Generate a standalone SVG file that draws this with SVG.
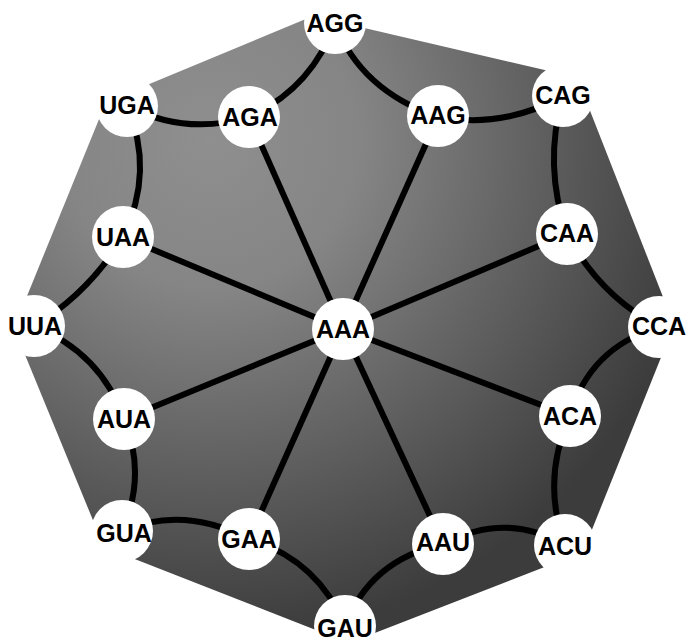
<svg xmlns="http://www.w3.org/2000/svg" width="689" height="642" viewBox="0 0 689 642">
<defs>
<radialGradient id="bg" gradientUnits="userSpaceOnUse" cx="210" cy="140" r="500">
<stop offset="0" stop-color="#8f8f8f"/>
<stop offset="0.3" stop-color="#858585"/>
<stop offset="1" stop-color="#3c3c3c"/>
</radialGradient>
</defs>
<style>
.e{fill:none;stroke:#000;stroke-width:6}
.n circle{fill:#fff}
.n text{font-family:"Liberation Sans",Arial,sans-serif;font-weight:bold;font-size:25px;text-anchor:middle;fill:#000}
</style>
<rect width="689" height="642" fill="#fff"/>
<polygon points="313,16 577,77.5 674,325 583,552 349,643 104,547 14,328 106,102" fill="url(#bg)"/>
<g id="connectors">
<path class="e" d="M343,329 L249,117"/>
<path class="e" d="M343,329 L438,117"/>
<path class="e" d="M343,329 L123,237"/>
<path class="e" d="M343,329 L567,234"/>
<path class="e" d="M343,329 L124,419"/>
<path class="e" d="M343,329 L570,416"/>
<path class="e" d="M343,329 L249,539"/>
<path class="e" d="M343,329 L443,544"/>
<path class="e" d="M335,23 Q312,88 249,117"/>
<path class="e" d="M335,23 Q360,90 438,117"/>
<path class="e" d="M127,106 Q186,136 249,117"/>
<path class="e" d="M438,117 Q503,129 563,96"/>
<path class="e" d="M127,106 Q155,171 123,237"/>
<path class="e" d="M563,96 Q543,165 567,234"/>
<path class="e" d="M123,237 Q88,294 34,326"/>
<path class="e" d="M567,234 Q599,295 659,327"/>
<path class="e" d="M34,326 Q101,353 124,419"/>
<path class="e" d="M659,327 Q589,348 570,416"/>
<path class="e" d="M124,419 Q147,475 122,531"/>
<path class="e" d="M570,416 Q541,480 565,545"/>
<path class="e" d="M122,531 Q183,505 249,539"/>
<path class="e" d="M443,544 Q506,511 565,545"/>
<path class="e" d="M249,539 Q318,560 345,626"/>
<path class="e" d="M443,544 Q370,560 345,626"/>
</g>
<g id="AGG" class="n"><circle cx="335" cy="23" r="31"/><text x="335" y="32">AGG</text></g>
<g id="UGA" class="n"><circle cx="127" cy="106" r="31"/><text x="127" y="114">UGA</text></g>
<g id="AGA" class="n"><circle cx="249" cy="117" r="31"/><text x="250" y="126">AGA</text></g>
<g id="AAG" class="n"><circle cx="438" cy="116" r="31"/><text x="438" y="124">AAG</text></g>
<g id="CAG" class="n"><circle cx="563" cy="96" r="31"/><text x="563" y="104">CAG</text></g>
<g id="UAA" class="n"><circle cx="123" cy="237" r="31"/><text x="123" y="246">UAA</text></g>
<g id="CAA" class="n"><circle cx="567" cy="234" r="31"/><text x="567" y="242">CAA</text></g>
<g id="UUA" class="n"><circle cx="34" cy="326" r="31"/><text x="35" y="335">UUA</text></g>
<g id="AAA" class="n"><circle cx="343" cy="329" r="31"/><text x="343" y="338">AAA</text></g>
<g id="CCA" class="n"><circle cx="659" cy="327" r="31"/><text x="659" y="335">CCA</text></g>
<g id="AUA" class="n"><circle cx="124" cy="419" r="31"/><text x="124" y="428">AUA</text></g>
<g id="ACA" class="n"><circle cx="570" cy="416" r="31"/><text x="570" y="425">ACA</text></g>
<g id="GUA" class="n"><circle cx="122" cy="531" r="31"/><text x="124" y="542">GUA</text></g>
<g id="GAA" class="n"><circle cx="249" cy="539" r="31"/><text x="249" y="548">GAA</text></g>
<g id="AAU" class="n"><circle cx="443" cy="544" r="31"/><text x="443" y="551">AAU</text></g>
<g id="ACU" class="n"><circle cx="565" cy="545" r="31"/><text x="565" y="555">ACU</text></g>
<g id="GAU" class="n"><circle cx="345" cy="626" r="31"/><text x="345" y="637">GAU</text></g>
</svg>
